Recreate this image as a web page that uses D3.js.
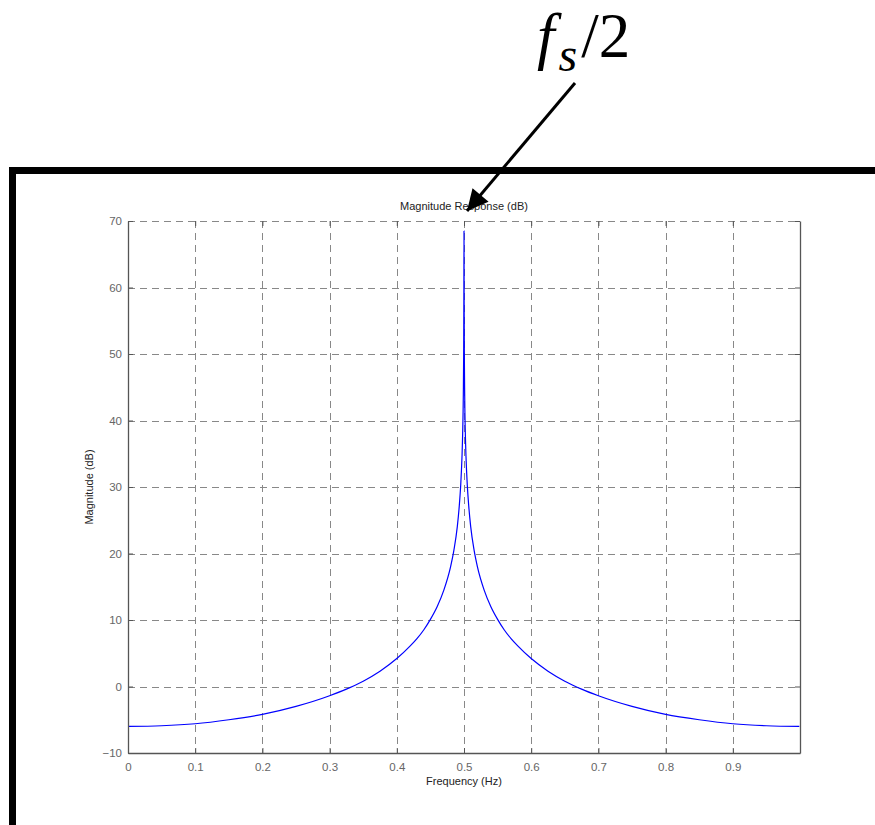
<!DOCTYPE html>
<html>
<head>
<meta charset="utf-8">
<script src="https://cdn.jsdelivr.net/npm/d3@7"></script>
<style>
  html, body { margin: 0; padding: 0; background: #fff; }
  svg { display: block; }
</style>
</head>
<body>
<svg id="chart" width="875" height="825"></svg>
<script>
// Frequency points (Hz) and magnitude (dB) of the response
const freq = [0, 0.05, 0.1, 0.15, 0.2, 0.25, 0.3, 0.325, 0.35, 0.375, 0.4, 0.42, 0.43, 0.44, 0.45, 0.46, 0.47, 0.48, 0.485, 0.49, 0.493, 0.495, 0.497, 0.498, 0.499, 0.4995, 0.4998, 0.5,
              0.5002, 0.5005, 0.501, 0.502, 0.503, 0.505, 0.507, 0.51, 0.515, 0.52, 0.53, 0.54, 0.55, 0.56, 0.57, 0.58, 0.6, 0.625, 0.65, 0.675, 0.7, 0.75, 0.8, 0.85, 0.9, 0.95, 0.999];
const magnitude = [-6.0, -5.9, -5.6, -5.0, -4.2, -3.0, -1.4, -0.4, 0.8, 2.3, 4.2, 6.1, 7.2, 8.5, 10.1, 12.0, 14.5, 18.0, 20.5, 24.0, 27.2, 30.1, 34.5, 38.0, 44.0, 50.0, 58.0, 68.5,
                   58.0, 50.0, 44.0, 38.0, 34.5, 30.1, 27.2, 24.0, 20.5, 18.0, 14.5, 12.0, 10.1, 8.5, 7.2, 6.1, 4.2, 2.3, 0.8, -0.4, -1.4, -3.0, -4.2, -5.0, -5.6, -5.9, -6.0];
const xTicks = [0, 0.1, 0.2, 0.3, 0.4, 0.5, 0.6, 0.7, 0.8, 0.9];
const yTicks = [-10, 0, 10, 20, 30, 40, 50, 60, 70];

const svg = d3.select("#chart");
const plot = { left: 128, right: 800, top: 221, bottom: 753 };

const x = d3.scaleLinear().domain([0, 1]).range([plot.left, plot.right]);
const y = d3.scaleLinear().domain([-10, 70]).range([plot.bottom, plot.top]);

const axisColor = "#555";
const font = "'Liberation Sans', Arial, Helvetica, sans-serif";

// Dashed grid
const grid = svg.append("g").attr("stroke", "#888").attr("stroke-width", 1).attr("stroke-dasharray", "7,5");
grid.selectAll("line.gx").data(xTicks.filter(d => d > 0)).join("line")
  .attr("x1", d => Math.round(x(d)) + 0.5).attr("x2", d => Math.round(x(d)) + 0.5)
  .attr("y1", plot.top).attr("y2", plot.bottom);
grid.selectAll("line.gy").data(yTicks.filter(d => d > -10 && d < 70)).join("line")
  .attr("y1", d => Math.round(y(d)) + 0.5).attr("y2", d => Math.round(y(d)) + 0.5)
  .attr("x1", plot.left).attr("x2", plot.right);
// top edge of the box drawn dashed too
grid.append("line").attr("x1", plot.left).attr("x2", plot.right)
  .attr("y1", plot.top + 0.5).attr("y2", plot.top + 0.5);

// Response curve
const line = d3.line().x((d, i) => x(freq[i])).y(d => y(d)).curve(d3.curveMonotoneX);
svg.append("path").datum(magnitude)
  .attr("d", line)
  .attr("fill", "none")
  .attr("stroke", "#0000ff")
  .attr("stroke-width", 1.2);

// Axes (inward ticks, mirrored on top and right)
const tickLen = 5;
const bottomAxis = d3.axisBottom(x).tickValues(xTicks).tickSizeInner(-tickLen).tickSizeOuter(0).tickPadding(10).tickFormat(d3.format("~g"));
const leftAxis = d3.axisLeft(y).tickValues(yTicks).tickSizeInner(-tickLen).tickSizeOuter(0).tickPadding(10).tickFormat(d3.format("~g"));
const topAxis = d3.axisTop(x).tickValues(xTicks).tickSizeInner(-tickLen).tickSizeOuter(0).tickFormat("");
const rightAxis = d3.axisRight(y).tickValues(yTicks).tickSizeInner(-tickLen).tickSizeOuter(0).tickFormat("");

function styleAxis(g) {
  g.selectAll("path").attr("stroke", axisColor).attr("stroke-width", 1.3);
  g.selectAll("line").attr("stroke", axisColor);
  g.selectAll("text").attr("fill", "#666").attr("font-family", font).attr("font-size", 11.5);
}
svg.append("g").attr("transform", `translate(0,${plot.bottom})`).call(bottomAxis).call(styleAxis)
  .selectAll("text").attr("dy", "0.71em");
svg.append("g").attr("transform", `translate(${plot.left},0)`).call(leftAxis).call(styleAxis)
  .selectAll("text").attr("dx", "4");
svg.append("g").attr("transform", `translate(0,${plot.top})`).call(topAxis).call(styleAxis)
  .select("path").attr("stroke", "none");
svg.append("g").attr("transform", `translate(${plot.right},0)`).call(rightAxis).call(styleAxis);

// Titles
svg.append("text").attr("x", (plot.left + plot.right) / 2).attr("y", 210)
  .attr("text-anchor", "middle").attr("font-family", font).attr("font-size", 11)
  .attr("fill", "#222").text("Magnitude Response (dB)");
svg.append("text").attr("x", (plot.left + plot.right) / 2).attr("y", 785)
  .attr("text-anchor", "middle").attr("font-family", font).attr("font-size", 11)
  .attr("fill", "#222").text("Frequency (Hz)");
svg.append("text")
  .attr("transform", `translate(93,${(plot.top + plot.bottom) / 2}) rotate(-90)`)
  .attr("text-anchor", "middle").attr("font-family", font).attr("font-size", 11)
  .attr("fill", "#222").text("Magnitude (dB)");

// Heavy frame around the figure
svg.append("rect").attr("x", 9).attr("y", 167).attr("width", 866).attr("height", 7).attr("fill", "#000");
svg.append("rect").attr("x", 9).attr("y", 167).attr("width", 7).attr("height", 658).attr("fill", "#000");

// Annotation: f_s/2 with arrow pointing at the peak
const peakX = x(freq[magnitude.indexOf(d3.max(magnitude))]);
const tip = [peakX + 3, 211];
const start = [575, 83];
const defs = svg.append("defs");
defs.append("marker").attr("id", "arrowhead")
  .attr("viewBox", "0 0 10 10").attr("refX", 10).attr("refY", 5)
  .attr("markerWidth", 8).attr("markerHeight", 7).attr("markerUnits", "strokeWidth")
  .attr("orient", "auto")
  .append("path").attr("d", "M0,0 L10,5 L0,10 Z").attr("fill", "#000");
svg.append("line")
  .attr("x1", start[0]).attr("y1", start[1]).attr("x2", tip[0]).attr("y2", tip[1])
  .attr("stroke", "#000").attr("stroke-width", 3).attr("marker-end", "url(#arrowhead)");

const label = svg.append("text").attr("x", 537).attr("y", 57)
  .attr("font-family", "'Liberation Serif', 'Times New Roman', serif").attr("font-size", 63).attr("fill", "#000");
label.append("tspan").attr("font-style", "italic").text("f");
label.append("tspan").attr("font-style", "italic").attr("font-size", 48).attr("dy", 14).attr("dx", 4).text("s");
label.append("tspan").attr("dy", -14).attr("dx", 4).text("/2");
</script>
</body>
</html>
